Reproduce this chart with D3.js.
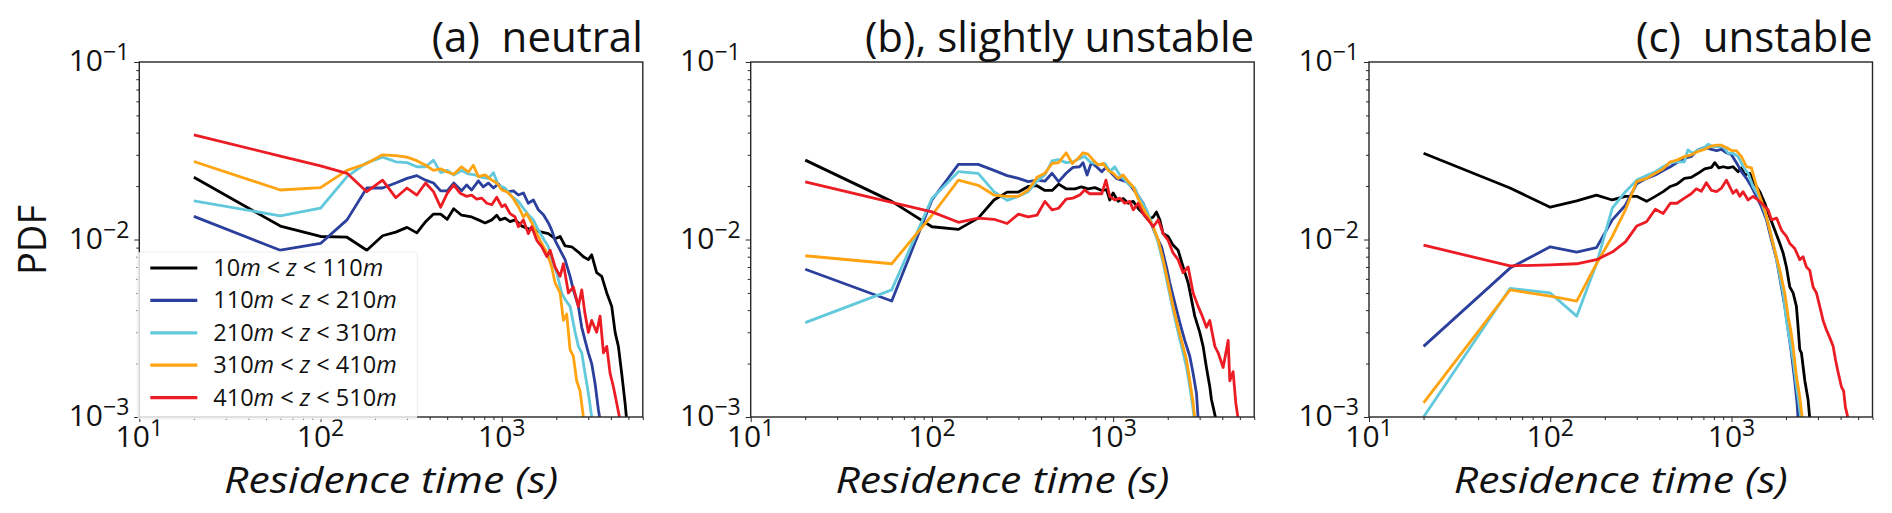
<!DOCTYPE html>
<meta charset="utf-8">
<style>
  body { margin: 0; background: #fff; }
  svg { font-family: 'Open Sans', 'Noto Sans', sans-serif; }
  .spine { fill: none; stroke: #262626; stroke-width: 1.4px; }
  .tk line { stroke: #262626; }
  .tk .domain { display: none; }
</style>
<script src="https://d3js.org/d3.v7.min.js"></script>
<div id="chart"></div>
<script>

// ---- data ----
const bandLabels = [["10", "110"], ["110", "210"], ["210", "310"], ["310", "410"], ["410", "510"]];
const bandColors = ["#000000", "#2b3f9c", "#62c8dc", "#ffa310", "#ec1c24"];
const panelTitles = ["(a)  neutral", "(b), slightly unstable", "(c)  unstable"];
const xMajor = [10, 100, 1000];
const yMajor = [0.001, 0.01, 0.1];

// (a) neutral
const neutral1 = [[20,0.0224],[60,0.0119],[100,0.0104],[140,0.0103],[180,0.0087],[220,0.0105],[260,0.0110],[300,0.0117],[340,0.0109],[380,0.0126],[420,0.0139],[460,0.0139],[500,0.0130],[543,0.0149],[600,0.0137],[682,0.0134],[743,0.0129],[809,0.0124],[881,0.0129],[938,0.0137],[979,0.0129],[1043,0.0132],[1111,0.0126],[1184,0.0129],[1290,0.0119],[1400,0.0115],[1592,0.0111],[1808,0.0108],[1968,0.0101],[2098,0.0104],[2234,0.0092],[2432,0.0091],[2647,0.0085],[2820,0.0080],[3005,0.0077],[3135,0.0082],[3338,0.0065],[3560,0.0062],[3796,0.0050],[4043,0.0042],[4221,0.0030],[4400,0.0025],[4589,0.00176],[4789,0.0012],[4890,0.00096]];
const neutral2 = [[20,0.0135],[60,0.0087],[100,0.0095],[140,0.0129],[180,0.0195],[220,0.0195],[260,0.0208],[300,0.0221],[340,0.0229],[380,0.0216],[420,0.0208],[460,0.0188],[500,0.0188],[543,0.0208],[600,0.0188],[640,0.0203],[682,0.0190],[743,0.0214],[790,0.0198],[843,0.0208],[900,0.0195],[958,0.0206],[1020,0.0190],[1088,0.0186],[1159,0.0188],[1235,0.0178],[1316,0.0183],[1400,0.0160],[1494,0.0167],[1592,0.0147],[1698,0.0138],[1808,0.0124],[1886,0.0113],[1968,0.0099],[2098,0.0087],[2234,0.0077],[2381,0.0062],[2483,0.0052],[2647,0.0042],[2762,0.0032],[2881,0.0027],[3005,0.0023],[3135,0.0020],[3270,0.00155],[3413,0.0011],[3487,0.00096]];
const neutral3 = [[20,0.0165],[60,0.0136],[100,0.0150],[140,0.0226],[180,0.0271],[220,0.0291],[260,0.0274],[300,0.0271],[340,0.0257],[380,0.0257],[420,0.0280],[460,0.0238],[500,0.0245],[543,0.0231],[600,0.0245],[654,0.0234],[711,0.0231],[776,0.0224],[845,0.0221],[900,0.0238],[958,0.0202],[1043,0.0195],[1135,0.0175],[1235,0.0164],[1316,0.0150],[1400,0.0138],[1494,0.0129],[1592,0.0113],[1698,0.0101],[1808,0.0091],[1886,0.0077],[2010,0.0065],[2140,0.0050],[2234,0.0046],[2381,0.0042],[2540,0.0030],[2647,0.0025],[2762,0.0023],[2881,0.00176],[3005,0.00136],[3135,0.00100]];
const neutral4 = [[20,0.0275],[60,0.0190],[100,0.0196],[140,0.0245],[180,0.0268],[220,0.0300],[260,0.0297],[300,0.0291],[340,0.0278],[380,0.0262],[420,0.0245],[460,0.0250],[500,0.0240],[543,0.0233],[600,0.0257],[654,0.0240],[697,0.0262],[743,0.0226],[809,0.0231],[881,0.0216],[938,0.0208],[1000,0.0190],[1065,0.0186],[1135,0.0175],[1235,0.0153],[1316,0.0134],[1372,0.0140],[1463,0.0124],[1560,0.0108],[1663,0.0095],[1774,0.0084],[1886,0.0070],[1968,0.0057],[2098,0.0050],[2188,0.0035],[2282,0.0038],[2381,0.0024],[2483,0.0022],[2590,0.0016],[2704,0.0014],[2820,0.0010]];
const neutral5 = [[20,0.0389],[60,0.0295],[100,0.0260],[140,0.0236],[180,0.0186],[220,0.0216],[260,0.0172],[300,0.0195],[340,0.0178],[380,0.0208],[420,0.0186],[460,0.0152],[500,0.0182],[543,0.0203],[590,0.0182],[640,0.0175],[682,0.0178],[727,0.0169],[776,0.0171],[827,0.0160],[881,0.0157],[938,0.0173],[1000,0.0153],[1043,0.0157],[1111,0.0140],[1184,0.0134],[1235,0.0118],[1316,0.0129],[1400,0.0108],[1463,0.0118],[1560,0.0099],[1663,0.0091],[1774,0.0080],[1849,0.0087],[1968,0.0070],[2098,0.0062],[2188,0.0073],[2332,0.0050],[2483,0.0054],[2647,0.0042],[2762,0.0052],[2881,0.0038],[3005,0.0030],[3135,0.0035],[3338,0.0030],[3487,0.0037],[3640,0.0023],[3796,0.0025],[3959,0.00176],[4130,0.00148],[4310,0.00119],[4493,0.00096]];

// (b) slightly unstable
const slight1 = [[20,0.0280],[60,0.0164],[100,0.0118],[140,0.0114],[180,0.0132],[220,0.0167],[260,0.0185],[300,0.0185],[340,0.0199],[380,0.0201],[420,0.0189],[460,0.0189],[500,0.0205],[550,0.0193],[615,0.0193],[667,0.0198],[727,0.0193],[793,0.0196],[865,0.0189],[919,0.0191],[958,0.0167],[1000,0.0183],[1065,0.0164],[1135,0.0170],[1210,0.0160],[1290,0.0164],[1372,0.0150],[1463,0.0140],[1560,0.0129],[1663,0.0134],[1733,0.0143],[1808,0.0129],[1886,0.0108],[2010,0.0104],[2140,0.0093],[2282,0.0087],[2432,0.0070],[2592,0.0057],[2704,0.0046],[2820,0.0037],[3005,0.0030],[3135,0.0025],[3270,0.0019],[3413,0.00148],[3487,0.00125],[3560,0.00114],[3680,0.00098]];
const slight2 = [[20,0.0068],[60,0.0045],[100,0.0167],[140,0.0265],[180,0.0265],[220,0.0245],[260,0.0229],[300,0.0221],[340,0.0212],[380,0.0216],[420,0.0213],[460,0.0236],[500,0.0212],[550,0.0236],[600,0.0255],[654,0.0257],[682,0.0271],[718,0.0231],[758,0.0271],[809,0.0257],[865,0.0241],[919,0.0257],[979,0.0236],[1043,0.0221],[1111,0.0216],[1184,0.0212],[1262,0.0198],[1344,0.0182],[1463,0.0160],[1592,0.0129],[1733,0.0104],[1849,0.0091],[1968,0.0070],[2053,0.0057],[2188,0.0044],[2332,0.0034],[2483,0.0027],[2647,0.0022],[2762,0.00176],[2881,0.00136],[2943,0.00098]];
const slight3 = [[20,0.0034],[60,0.0052],[100,0.0170],[140,0.0241],[180,0.0236],[220,0.0186],[260,0.0166],[300,0.0175],[340,0.0186],[380,0.0213],[420,0.0231],[460,0.0277],[500,0.0282],[550,0.0271],[600,0.0274],[654,0.0286],[697,0.0294],[743,0.0274],[793,0.0268],[845,0.0263],[900,0.0268],[958,0.0241],[1020,0.0257],[1088,0.0231],[1159,0.0216],[1235,0.0202],[1316,0.0195],[1400,0.0170],[1527,0.0147],[1663,0.0118],[1774,0.0095],[1886,0.0074],[2010,0.0054],[2140,0.0040],[2282,0.0030],[2432,0.0023],[2540,0.0019],[2647,0.00148],[2762,0.00110],[2800,0.00098]];
const slight4 = [[20,0.0081],[60,0.0073],[100,0.0137],[140,0.0216],[180,0.0202],[220,0.0178],[260,0.0175],[300,0.0175],[340,0.0190],[380,0.0224],[420,0.0236],[460,0.0268],[500,0.0271],[550,0.0308],[595,0.0268],[640,0.0286],[682,0.0308],[727,0.0303],[776,0.0280],[827,0.0263],[881,0.0268],[938,0.0245],[1000,0.0236],[1065,0.0221],[1135,0.0231],[1210,0.0212],[1290,0.0198],[1372,0.0170],[1463,0.0150],[1560,0.0134],[1663,0.0118],[1774,0.0099],[1886,0.0077],[2010,0.0057],[2140,0.0042],[2282,0.0032],[2381,0.0027],[2540,0.0021],[2647,0.0016],[2762,0.0012],[2820,0.00098]];
const slight5 = [[20,0.0211],[60,0.0162],[100,0.0143],[140,0.0125],[180,0.0132],[220,0.0130],[260,0.0123],[300,0.0139],[340,0.0134],[380,0.0137],[420,0.0164],[460,0.0147],[500,0.0150],[550,0.0169],[600,0.0171],[654,0.0178],[697,0.0190],[743,0.0181],[809,0.0181],[865,0.0181],[912,0.0216],[958,0.0175],[1020,0.0167],[1088,0.0171],[1159,0.0160],[1235,0.0164],[1290,0.0147],[1372,0.0160],[1463,0.0140],[1560,0.0129],[1663,0.0118],[1774,0.0129],[1886,0.0108],[2010,0.0099],[2140,0.0084],[2282,0.0077],[2432,0.0065],[2592,0.0070],[2762,0.0050],[2943,0.0042],[3070,0.0038],[3270,0.0032],[3413,0.0035],[3640,0.0025],[3796,0.0023],[4043,0.0019],[4310,0.0027],[4400,0.0016],[4589,0.0018],[4750,0.0012],[4890,0.00098]];

// (c) unstable
const unst1 = [[20,0.0306],[60,0.0195],[100,0.0152],[140,0.0165],[180,0.0178],[220,0.0167],[260,0.0175],[300,0.0175],[340,0.0164],[380,0.0175],[420,0.0186],[460,0.0199],[500,0.0205],[550,0.0221],[600,0.0224],[654,0.0236],[711,0.0250],[776,0.0255],[809,0.0271],[851,0.0253],[900,0.0257],[958,0.0253],[1020,0.0257],[1088,0.0241],[1135,0.0253],[1184,0.0231],[1262,0.0236],[1344,0.0206],[1432,0.0186],[1527,0.0160],[1627,0.0134],[1733,0.0113],[1849,0.0095],[1927,0.0084],[2010,0.0070],[2098,0.0054],[2188,0.0050],[2282,0.0042],[2332,0.0032],[2381,0.0024],[2432,0.0023],[2540,0.0016],[2647,0.00125],[2704,0.00098]];
const unst2 = [[20,0.0025],[60,0.0069],[100,0.0091],[140,0.0085],[180,0.0090],[220,0.0129],[260,0.0156],[300,0.0206],[340,0.0221],[380,0.0231],[420,0.0245],[460,0.0257],[500,0.0271],[550,0.0286],[600,0.0294],[654,0.0320],[711,0.0330],[776,0.0322],[827,0.0317],[881,0.0322],[938,0.0308],[1000,0.0300],[1065,0.0271],[1135,0.0241],[1210,0.0221],[1290,0.0198],[1372,0.0175],[1463,0.0153],[1560,0.0129],[1663,0.0099],[1774,0.0077],[1886,0.0054],[1968,0.0042],[2053,0.0031],[2140,0.0023],[2234,0.0016],[2300,0.0012],[2332,0.00098]];
const unst3 = [[20,0.0010],[60,0.0053],[100,0.0050],[140,0.0037],[180,0.0073],[220,0.0150],[260,0.0186],[300,0.0216],[340,0.0229],[380,0.0241],[420,0.0257],[460,0.0271],[500,0.0274],[550,0.0274],[575,0.0320],[612,0.0306],[654,0.0320],[697,0.0326],[743,0.0344],[793,0.0334],[845,0.0334],[900,0.0334],[958,0.0306],[1020,0.0306],[1088,0.0293],[1159,0.0257],[1235,0.0236],[1316,0.0198],[1400,0.0178],[1494,0.0153],[1592,0.0124],[1698,0.0095],[1808,0.0070],[1927,0.0050],[2010,0.0035],[2098,0.0027],[2188,0.0021],[2282,0.0015],[2381,0.0011],[2410,0.00098]];
const unst4 = [[20,0.0012],[60,0.0052],[100,0.0048],[140,0.0045],[180,0.0073],[220,0.0104],[260,0.0147],[300,0.0212],[340,0.0221],[380,0.0236],[420,0.0250],[460,0.0274],[500,0.0280],[550,0.0293],[600,0.0300],[654,0.0314],[711,0.0322],[776,0.0336],[827,0.0340],[881,0.0340],[938,0.0330],[1000,0.0317],[1065,0.0317],[1135,0.0293],[1210,0.0257],[1290,0.0253],[1344,0.0216],[1432,0.0175],[1527,0.0147],[1627,0.0113],[1733,0.0087],[1849,0.0067],[1968,0.0050],[2053,0.0037],[2122,0.0031],[2188,0.0025],[2282,0.0017],[2381,0.0013],[2460,0.00098]];
const unst5 = [[20,0.0093],[60,0.0071],[100,0.0072],[140,0.0073],[180,0.0077],[220,0.0085],[260,0.0097],[300,0.0119],[340,0.0126],[380,0.0148],[420,0.0140],[460,0.0160],[500,0.0160],[550,0.0171],[600,0.0181],[640,0.0193],[682,0.0187],[727,0.0209],[776,0.0189],[827,0.0186],[881,0.0195],[938,0.0216],[979,0.0198],[1020,0.0182],[1065,0.0190],[1111,0.0175],[1159,0.0186],[1235,0.0167],[1316,0.0175],[1400,0.0167],[1494,0.0157],[1592,0.0147],[1663,0.0129],[1774,0.0132],[1886,0.0113],[2010,0.0104],[2098,0.0095],[2234,0.0089],[2381,0.0077],[2483,0.0080],[2592,0.0070],[2704,0.0067],[2820,0.0054],[2943,0.0050],[3070,0.0042],[3203,0.0035],[3338,0.0031],[3487,0.0028],[3640,0.0025],[3750,0.0021],[3870,0.0018],[4043,0.00148],[4160,0.0014],[4250,0.00114],[4400,0.00098]];

const panelSeries = [
  [neutral1, neutral2, neutral3, neutral4, neutral5],
  [slight1, slight2, slight3, slight4, slight5],
  [unst1, unst2, unst3, unst4, unst5]
];

// ---- layout ----
const W = 1892, H = 513;
const panelLeft = [139.3, 750.7, 1369];
const panelTop = 62;
const w = 503.5, h = 355;

const svg = d3.select("#chart").append("svg")
    .attr("width", W).attr("height", H);

const x = d3.scaleLog().domain([10, 6000]).range([0, w]);
const y = d3.scaleLog().domain([0.001, 0.1]).range([h, 0]);

// minor ticks 2..9 of every decade inside the domain
const xMinor = [];
[10, 100, 1000].forEach(d => { for (let k = 2; k <= 9; k++) if (d * k <= 6000) xMinor.push(d * k); });
const yMinor = [];
[0.001, 0.01].forEach(d => { for (let k = 2; k <= 9; k++) yMinor.push(d * k); });

const line = d3.line()
    .x(d => x(d[0]))
    .y(d => y(d[1]));

// "10" with a raised exponent, like matplotlib's log labels
function power(sel, v) {
  const e = Math.round(Math.log10(v));
  sel.append("tspan").text("10");
  sel.append("tspan").attr("dy", -11).attr("font-size", 23)
    .text(e < 0 ? "\u2212" + (-e) : String(e));
}

panelSeries.forEach((series, i) => {
  const g = svg.append("g").attr("transform", `translate(${panelLeft[i]},${panelTop})`);

  g.append("clipPath").attr("id", "clip" + i)
    .append("rect").attr("width", w).attr("height", h);

  const plot = g.append("g").attr("clip-path", `url(#clip${i})`);
  series.forEach((s, j) => {
    plot.append("path")
      .datum(s)
      .attr("fill", "none")
      .attr("stroke", bandColors[j])
      .attr("stroke-width", 2.8)
      .attr("stroke-linejoin", "round")
      .attr("d", line);
  });

  // ticks
  g.append("g").attr("class", "tk").attr("transform", `translate(0,${h})`)
    .call(d3.axisBottom(x).tickValues(xMajor).tickSize(5).tickFormat(""));
  g.append("g").attr("class", "tk").attr("transform", `translate(0,${h})`)
    .call(d3.axisBottom(x).tickValues(xMinor).tickSize(3).tickFormat(""));
  g.append("g").attr("class", "tk")
    .call(d3.axisLeft(y).tickValues(yMajor).tickSize(5).tickFormat(""));
  g.append("g").attr("class", "tk")
    .call(d3.axisLeft(y).tickValues(yMinor).tickSize(3).tickFormat(""));

  g.append("rect").attr("class", "spine").attr("width", w).attr("height", h);

  // tick labels
  xMajor.forEach(v => {
    g.append("text").attr("x", x(v)).attr("y", h + 30)
      .attr("text-anchor", "middle").attr("font-size", 30).attr("fill", "#111")
      .call(power, v);
  });
  yMajor.forEach(v => {
    g.append("text").attr("x", -10).attr("y", y(v) + 9)
      .attr("text-anchor", "end").attr("font-size", 30).attr("fill", "#111")
      .call(power, v);
  });

  // titles and axis label
  g.append("text").attr("x", w).attr("y", -10)
    .attr("text-anchor", "end").attr("font-size", 42).attr("fill", "#111")
    .style("white-space", "pre")
    .text(panelTitles[i]);

  g.append("text").attr("x", w / 2).attr("y", 431)
    .attr("text-anchor", "middle").attr("font-size", 36).attr("font-style", "italic")
    .attr("fill", "#111")
    .attr("textLength", 334).attr("lengthAdjust", "spacingAndGlyphs")
    .text("Residence time (s)");
});

// y label
svg.append("text")
  .attr("transform", "translate(46,240) rotate(-90)")
  .attr("text-anchor", "middle").attr("font-size", 38).attr("fill", "#111")
  .text("PDF");

// legend (panel a, lower left)
const leg = svg.append("g").attr("transform", `translate(${panelLeft[0]},${panelTop})`);
leg.append("rect")
  .attr("x", -2).attr("y", 190).attr("width", 280).attr("height", 167).attr("rx", 4)
  .attr("fill", "#fff").attr("fill-opacity", 0.8)
  .attr("stroke", "#e8e8e8").attr("stroke-opacity", 0.8);

bandLabels.forEach((b, j) => {
  const ry = 206 + j * 32.4;
  leg.append("line").attr("x1", 11).attr("x2", 58).attr("y1", ry).attr("y2", ry)
    .attr("stroke", bandColors[j]).attr("stroke-width", 3.2);
  const t = leg.append("text").attr("x", 74).attr("y", ry + 8)
    .attr("font-size", 23.5).attr("fill", "#111").style("white-space", "pre");
  t.append("tspan").text(b[0]);
  t.append("tspan").attr("font-style", "italic").text("m");
  t.append("tspan").text(" < ");
  t.append("tspan").attr("font-style", "italic").text("z");
  t.append("tspan").text(" < " + b[1]);
  t.append("tspan").attr("font-style", "italic").text("m");
});

</script>
